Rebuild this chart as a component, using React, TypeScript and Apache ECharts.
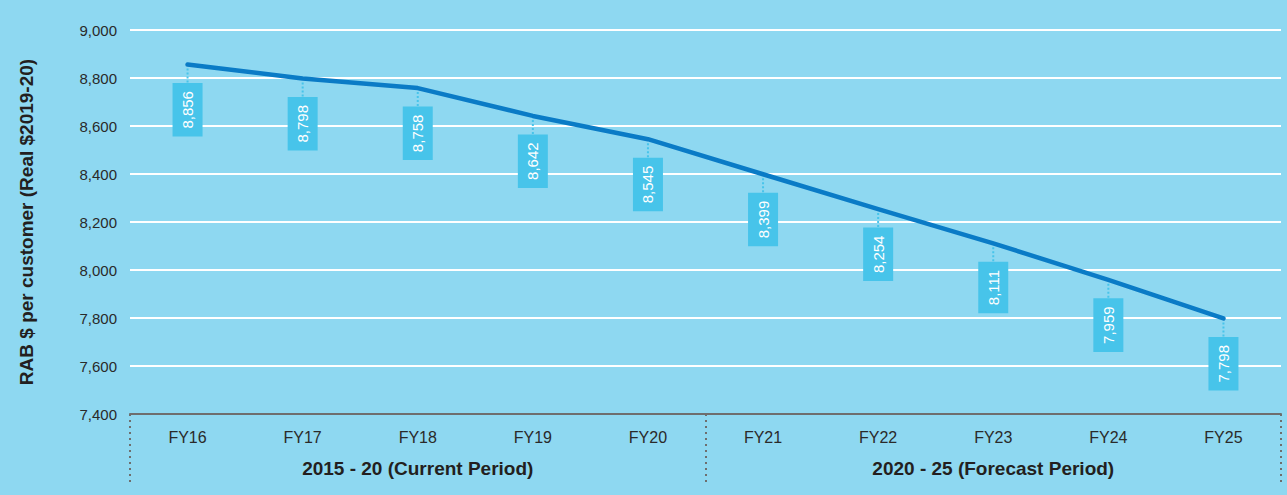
import React, { useEffect, useRef } from "react";
import * as echarts from "echarts";

const categories = ["FY16", "FY17", "FY18", "FY19", "FY20", "FY21", "FY22", "FY23", "FY24", "FY25"];
const values = [8856, 8798, 8758, 8642, 8545, 8399, 8254, 8111, 7959, 7798];
const periods = ["2015 - 20 (Current Period)", "2020 - 25 (Forecast Period)"];
const yTicks = { min: 7400, max: 9000, interval: 200 };
const yName = "RAB $ per customer (Real $2019-20)";

const BG = "#8ed8f1";
const LINE = "#0a7bc6";
const BOX = "#47c4ea";
const FONT = "'Liberation Sans', Arial, sans-serif";

export default function App() {
  const ref = useRef<HTMLDivElement>(null);
  useEffect(() => {
    if (!ref.current) return;
    const chart = echarts.init(ref.current, null, { renderer: "svg" });
    chart.setOption({
      animation: false,
      backgroundColor: BG,
      textStyle: { fontFamily: FONT },
      grid: { left: 130, right: 6, top: 30, bottom: 81, containLabel: false },
      xAxis: [
        {
          type: "category",
          data: categories,
          boundaryGap: true,
          position: "bottom",
          axisLine: { show: true, lineStyle: { color: "#6e6e6e", width: 2 } },
          axisTick: { show: false },
          axisLabel: { color: "#2a2a2a", fontSize: 16, margin: 15, fontFamily: FONT },
          splitLine: { show: false },
        },
        {
          type: "category",
          data: periods,
          boundaryGap: true,
          position: "bottom",
          offset: 42,
          axisLine: { show: false },
          axisTick: { show: false },
          axisLabel: { color: "#231f20", fontSize: 19, fontWeight: "bold", margin: 3, fontFamily: FONT },
          splitLine: { show: false },
        },
        {
          type: "value",
          min: 0,
          max: 10,
          interval: 5,
          position: "bottom",
          axisLine: { show: false },
          axisTick: { show: true, length: 70, lineStyle: { color: "#6e6e6e", width: 2, type: [2, 4] } },
          axisLabel: { show: false },
          splitLine: { show: false },
        },
      ],
      yAxis: {
        type: "value",
        min: yTicks.min,
        max: yTicks.max,
        interval: yTicks.interval,
        name: yName,
        nameLocation: "middle",
        nameRotate: 90,
        nameGap: 94,
        nameTextStyle: { color: "#231f20", fontSize: 19, fontWeight: "bold", fontFamily: FONT },
        axisLine: { show: false },
        axisTick: { show: false },
        axisLabel: {
          color: "#2a2a2a",
          fontSize: 15,
          margin: 13,
          fontFamily: FONT,
          formatter: (v: number) => v.toLocaleString("en-US"),
        },
        splitLine: { show: true, lineStyle: { color: "#ffffff", width: 2 } },
      },
      series: [
        {
          type: "custom",
          xAxisIndex: 0,
          yAxisIndex: 0,
          data: values.map((v, i) => [i, v]),
          z: 1,
          silent: true,
          renderItem: (params: any, api: any) => {
            const p = api.coord([api.value(0), api.value(1)]);
            return {
              type: "line",
              shape: { x1: p[0], y1: p[1] + 4, x2: p[0], y2: p[1] + 19 },
              style: { stroke: BOX, lineWidth: 2, lineDash: [2, 2] },
            };
          },
        },
        {
          type: "line",
          xAxisIndex: 0,
          yAxisIndex: 0,
          data: values,
          symbol: "circle",
          symbolSize: 1,
          showSymbol: true,
          itemStyle: { color: LINE },
          z: 3,
          lineStyle: { color: LINE, width: 4.5, cap: "round", join: "round" },
          label: {
            show: true,
            position: "bottom",
            distance: 18,
            rotate: 90,
            align: "right",
            verticalAlign: "middle",
            color: "#ffffff",
            fontSize: 15,
            fontFamily: FONT,
            lineHeight: 16,
            backgroundColor: BOX,
            padding: [7, 8, 7, 8],
            formatter: (p: any) => Number(p.value).toLocaleString("en-US"),
          },
        },
      ],
    });
    return () => chart.dispose();
  }, []);
  return (
    <div
      ref={ref}
      style={{ position: "absolute", left: 0, top: 0, width: 1287, height: 495 }}
    />
  );
}
